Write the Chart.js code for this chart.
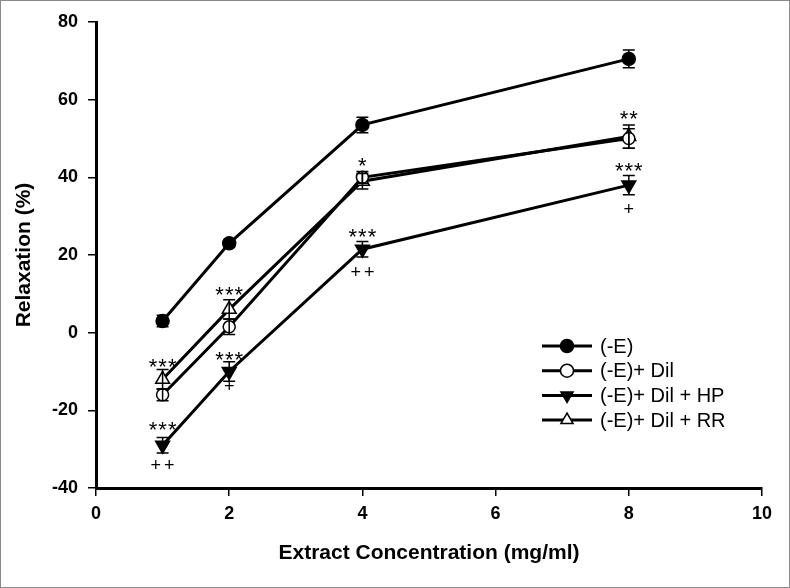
<!DOCTYPE html>
<html><head><meta charset="utf-8">
<script src="https://cdn.jsdelivr.net/npm/chart.js@4/dist/chart.umd.min.js"></script>
<style>html,body{margin:0;padding:0;background:#fff}#wrap{width:790px;height:588px;position:relative}</style>
</head><body><div id="wrap"><canvas id="c" width="790" height="588"></canvas></div>
<script>
// ---- data ----
const concentrations = [1, 2, 4, 8];
const seriesNames = ['(-E)', '(-E)+ Dil', '(-E)+ Dil + HP', '(-E)+ Dil + RR'];
const relaxE      = [3, 23, 53.5, 70.5];
const errE        = [1.5, 1, 2, 2.3];
const relaxDil    = [-16, 1.5, 40, 50];
const errDil      = [1.5, 2, 1.5, 2.5];
const relaxDilHP  = [-29, -10, 21.5, 38];
const errDilHP    = [2, 2.5, 2, 2.5];
const relaxDilRR  = [-12, 6, 39, 50.5];
const errDilRR    = [2.5, 2.5, 2, 3];
const xTicks = [0, 2, 4, 6, 8, 10];
const yTicks = [-40, -20, 0, 20, 40, 60, 80];
// significance marks: label, concentration, relaxation level
const markLabels = ['***', '***', '++', '***', '***', '+', '*', '***', '++', '**', '***', '+'];
const markX      = [1, 1, 1, 2, 2, 2, 4, 4, 4, 8, 8, 8];
const markY      = [-7.7, -23.9, -34.4, 10.8, -5.9, -14.1, 44, 25.7, 15.4, 56, 42.7, 31.6];

const values = [relaxE, relaxDil, relaxDilHP, relaxDilRR];
const errors = [errE, errDil, errDilHP, errDilRR];
const styles = [
  {pointStyle:'circle', r:6.5, fill:'#000', rot:0},
  {pointStyle:'circle', r:6, fill:'#fff', rot:0},
  {pointStyle:'triangle', r:8, fill:'#000', rot:180},
  {pointStyle:'triangle', r:8, fill:'#fff', rot:0}
];

const datasets = values.map((vals, i) => ({
  label: seriesNames[i],
  data: concentrations.map((c, j) => ({x: c, y: vals[j]})),
  borderColor: '#000',
  borderWidth: 3,
  pointStyle: styles[i].pointStyle,
  pointRadius: styles[i].r,
  pointRotation: styles[i].rot,
  pointBackgroundColor: styles[i].fill,
  pointBorderColor: '#000',
  pointBorderWidth: 1.5,
  tension: 0,
  fill: false
}));

const FONT = "'Liberation Sans', Arial, sans-serif";

const bgPlugin = {
  id: 'bg',
  beforeDraw(chart) {
    const ctx = chart.ctx;
    ctx.save();
    ctx.fillStyle = '#fff';
    ctx.fillRect(0, 0, chart.width, chart.height);
    ctx.restore();
  },
  afterDraw(chart) {
    const ctx = chart.ctx;
    ctx.save();
    ctx.strokeStyle = '#8a8a8a';
    ctx.lineWidth = 1;
    ctx.strokeRect(0.5, 0.5, chart.width - 1, chart.height - 1);
    ctx.restore();
  }
};

const errorBarPlugin = {
  id: 'errbars',
  afterDatasetsDraw(chart) {
    const ctx = chart.ctx, xs = chart.scales.x, ys = chart.scales.y;
    ctx.save();
    ctx.strokeStyle = '#000';
    ctx.lineWidth = 1.5;
    values.forEach((vals, i) => {
      vals.forEach((v, j) => {
        const px = xs.getPixelForValue(concentrations[j]);
        const top = ys.getPixelForValue(v + errors[i][j]);
        const bot = ys.getPixelForValue(v - errors[i][j]);
        ctx.beginPath();
        ctx.moveTo(px, top); ctx.lineTo(px, bot);
        ctx.moveTo(px - 6, top); ctx.lineTo(px + 6, top);
        ctx.moveTo(px - 6, bot); ctx.lineTo(px + 6, bot);
        ctx.stroke();
      });
    });
    ctx.restore();
  }
};

const marksPlugin = {
  id: 'marks',
  afterDatasetsDraw(chart) {
    const ctx = chart.ctx, xs = chart.scales.x, ys = chart.scales.y;
    ctx.save();
    ctx.fillStyle = '#000';
    ctx.textAlign = 'center';
    ctx.textBaseline = 'middle';
    markLabels.forEach((t, k) => {
      const px = xs.getPixelForValue(markX[k]);
      const py = ys.getPixelForValue(markY[k]);
      if (t.indexOf('*') >= 0) {
        ctx.font = '22px ' + FONT;
        ctx.letterSpacing = '1px';
        ctx.fillText(t, px + 0.5, py + 5);
      } else {
        ctx.font = '18px ' + FONT;
        ctx.letterSpacing = '3px';
        ctx.fillText(t, px + 1.5, py);
      }
    });
    ctx.restore();
  }
};

function drawMarker(ctx, s, x, y, r) {
  ctx.beginPath();
  if (s.pointStyle === 'circle') {
    ctx.arc(x, y, r, 0, Math.PI * 2);
  } else {
    const dir = s.rot === 180 ? 1 : -1;
    ctx.moveTo(x, y + dir * r);
    ctx.lineTo(x - r * 0.866, y - dir * r * 0.5);
    ctx.lineTo(x + r * 0.866, y - dir * r * 0.5);
    ctx.closePath();
  }
  ctx.fillStyle = s.fill;
  ctx.fill();
  ctx.lineWidth = 1.5;
  ctx.strokeStyle = '#000';
  ctx.stroke();
}

const legendPlugin = {
  id: 'customLegend',
  afterDraw(chart) {
    const ctx = chart.ctx;
    const x0 = 542, x1 = 592, xm = 567, xt = 600, y0 = 346, dy = 24.7;
    ctx.save();
    seriesNames.forEach((name, i) => {
      const y = y0 + i * dy;
      ctx.strokeStyle = '#000';
      ctx.lineWidth = 3;
      ctx.beginPath(); ctx.moveTo(x0, y); ctx.lineTo(x1, y); ctx.stroke();
      const s = styles[i];
      drawMarker(ctx, s, xm, y, s.pointStyle === 'circle' ? 6.5 : 7);
      ctx.fillStyle = '#000';
      ctx.font = '20px ' + FONT;
      ctx.textAlign = 'left';
      ctx.textBaseline = 'middle';
      ctx.fillText(name, xt, y + 1);
    });
    ctx.restore();
  }
};

new Chart(document.getElementById('c'), {
  type: 'line',
  data: {datasets},
  options: {
    responsive: false,
    devicePixelRatio: 1,
    animation: false,
    layout: {padding: {top: 22, right: 28, left: 0, bottom: 0}},
    plugins: {legend: {display: false}, tooltip: {enabled: false}},
    scales: {
      x: {
        type: 'linear', min: 0, max: 10,
        afterBuildTicks(scale) { scale.ticks = xTicks.map(v => ({value: v})); },
        afterFit(scale) { scale.height = 100; },
        border: {display: true, color: '#000', width: 3},
        grid: {display: true, drawOnChartArea: false, drawTicks: true, tickLength: 8, color: '#000', lineWidth: 1.5},
        ticks: {color: '#000', padding: 7, maxRotation: 0, font: {family: FONT, size: 18, weight: 'bold'}},
        title: {display: true, text: 'Extract Concentration (mg/ml)', color: '#000',
          font: {family: FONT, size: 21, weight: 'bold'}, padding: {top: 0, bottom: 22}}
      },
      y: {
        type: 'linear', min: -40, max: 80,
        afterBuildTicks(scale) { scale.ticks = yTicks.map(v => ({value: v})); },
        afterFit(scale) { scale.width = 96; },
        border: {display: true, color: '#000', width: 3},
        grid: {display: true, drawOnChartArea: false, drawTicks: true, tickLength: 8, color: '#000', lineWidth: 1.5},
        ticks: {color: '#000', padding: 10, font: {family: FONT, size: 18, weight: 'bold'}},
        title: {display: true, text: 'Relaxation (%)', color: '#000',
          font: {family: FONT, size: 21, weight: 'bold'}, padding: {top: 12, bottom: 0}}
      }
    }
  },
  plugins: [bgPlugin, errorBarPlugin, marksPlugin, legendPlugin]
});
</script>
</body></html>
